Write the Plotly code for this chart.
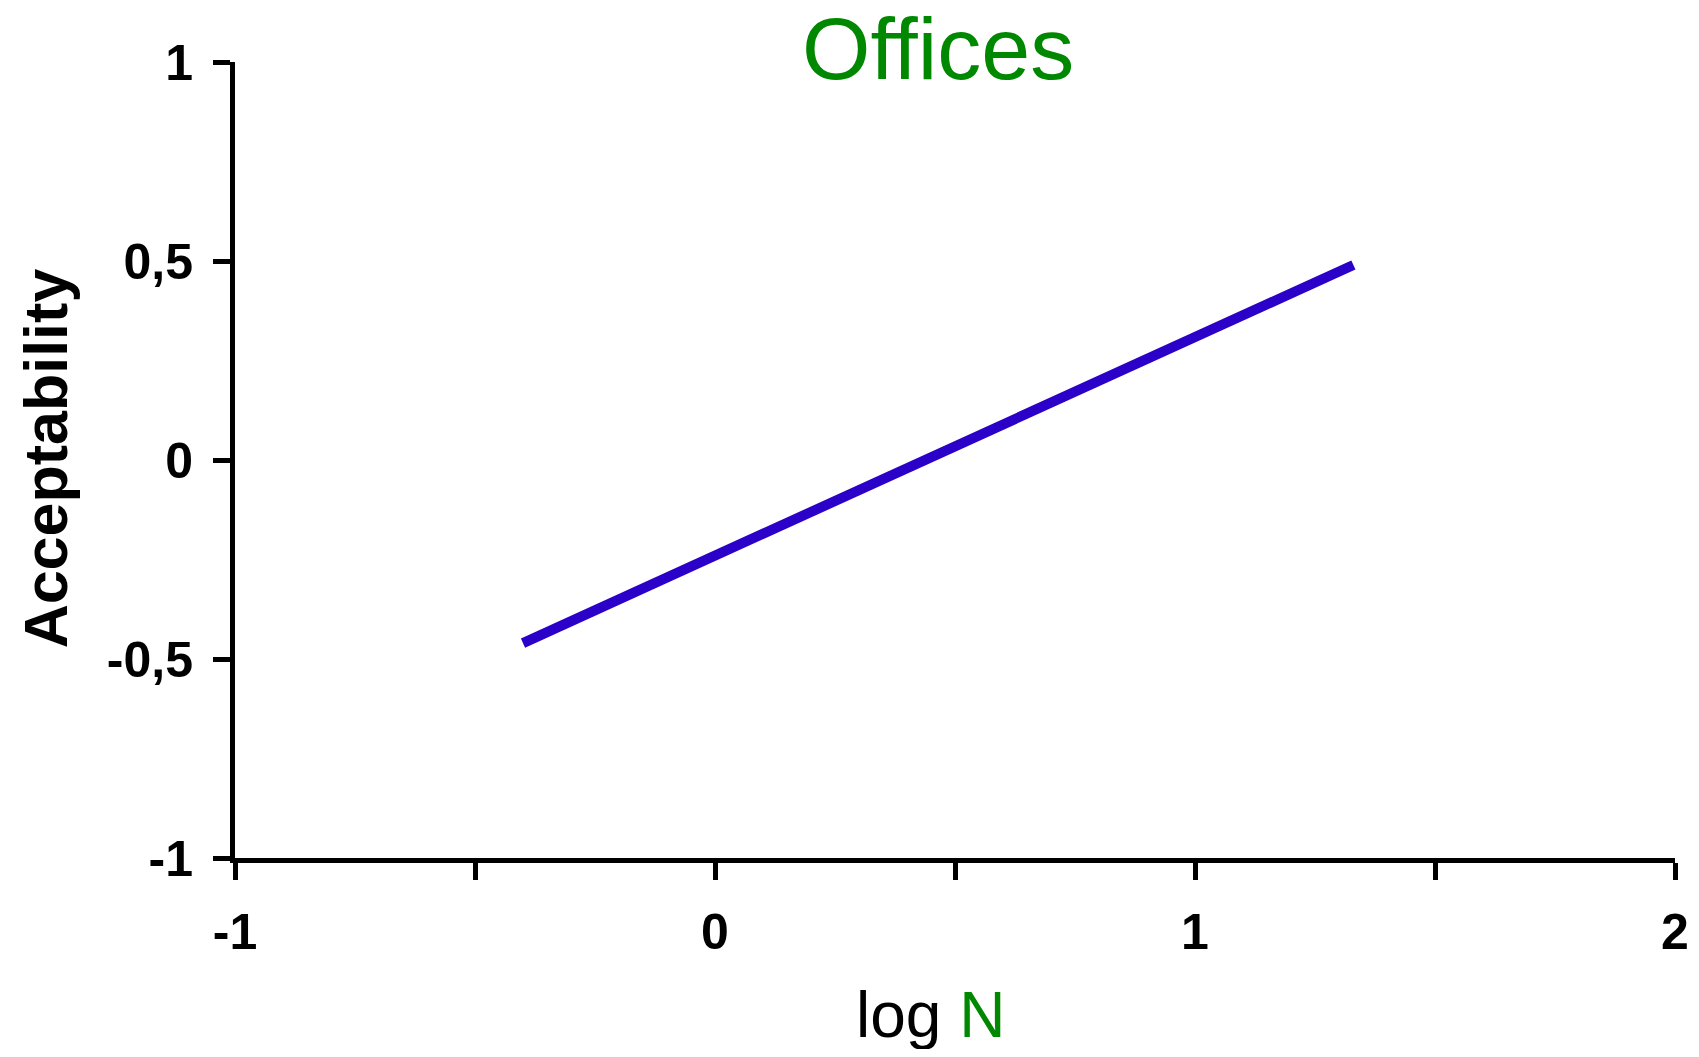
import plotly.graph_objects as go

# Data
line_x = [-0.40, 1.33]
line_y = [-0.46, 0.49]
x_tickvals = [-1, -0.5, 0, 0.5, 1, 1.5, 2]
x_ticktext = ["-1", "", "0", "", "1", "", "2"]
y_tickvals = [-1, -0.5, 0, 0.5, 1]
y_ticktext = ["-1", "-0,5", "0", "0,5", "1"]

NARROW = "Liberation Sans Narrow, Arial Narrow, Liberation Sans, Arial, sans-serif"
BOLD = "Liberation Sans, Arial, sans-serif"

fig = go.Figure()
fig.add_trace(go.Scatter(x=line_x, y=line_y, mode="lines",
                         line=dict(color="#2B00C8", width=10),
                         showlegend=False, hoverinfo="skip"))

fig.update_layout(
    width=1683, height=1041,
    margin=dict(l=227, r=16, t=54, b=191),
    paper_bgcolor="white", plot_bgcolor="white",
    xaxis=dict(range=[-1, 2], tickvals=x_tickvals, ticktext=x_ticktext,
               showline=True, linewidth=5, linecolor="black", automargin=False,
               ticks="outside", ticklen=17, tickwidth=5, tickcolor="black",
               showgrid=False, zeroline=False, ticklabelstandoff=9,
               tickfont=dict(family=BOLD, size=50, color="black", weight="bold")),
    yaxis=dict(range=[-1, 1], tickvals=y_tickvals, ticktext=y_ticktext,
               showline=True, linewidth=5, linecolor="black", automargin=False,
               ticks="outside", ticklen=17, tickwidth=5, tickcolor="black",
               showgrid=False, zeroline=False, ticklabelstandoff=10,
               tickfont=dict(family=BOLD, size=50, color="black", weight="bold")),
    annotations=[
        dict(text="Offices", xref="paper", yref="paper", x=0.488, y=1.017,
             xanchor="center", yanchor="middle", showarrow=False,
             font=dict(family=NARROW, size=88, color="#008800")),
        dict(text='log <span style="color:#008800">N</span>', xref="paper", yref="paper",
             x=0.483, y=-0.197, xanchor="center", yanchor="middle", showarrow=False,
             font=dict(family=NARROW, size=64, color="black")),
        dict(text="Acceptability", xref="paper", yref="paper", x=-0.131, y=0.5025,
             xanchor="center", yanchor="middle", showarrow=False, textangle=-90,
             font=dict(family=BOLD, size=61, color="black", weight="bold")),
    ],
)

fig.write_html("out.html")
